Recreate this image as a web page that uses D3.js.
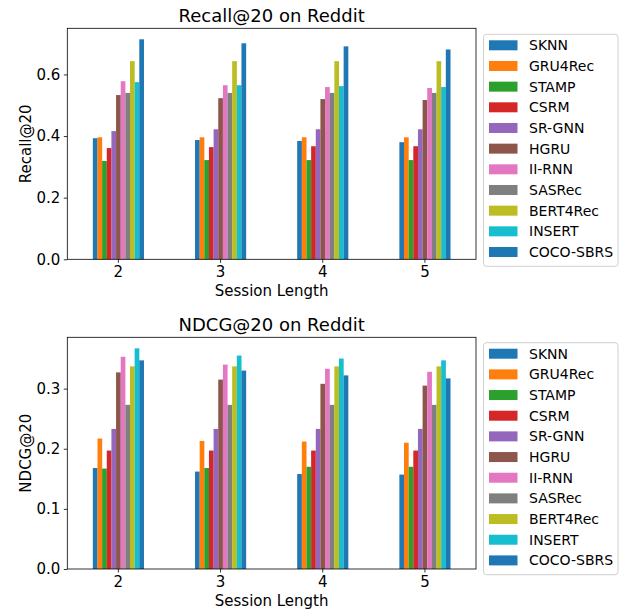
<!DOCTYPE html>
<html><head><meta charset="utf-8">
<script src="https://cdn.jsdelivr.net/npm/d3@7"></script>
<style>body{margin:0;background:#fff}svg{display:block;font-family:"DejaVu Sans",sans-serif}</style>
</head><body><svg id="c" width="622" height="611"></svg>
<script>
const categories = ["2","3","4","5"];
const methods = ["SKNN","GRU4Rec","STAMP","CSRM","SR-GNN","HGRU","II-RNN","SASRec","BERT4Rec","INSERT","COCO-SBRS"];
const colors = ["#1f77b4","#ff7f0e","#2ca02c","#d62728","#9467bd","#8c564b","#e377c2","#7f7f7f","#bcbd22","#17becf","#1f77b4"];
// values per method, across session lengths 2..5
const recall = [
  [0.393,0.387,0.384,0.380],
  [0.396,0.396,0.396,0.396],
  [0.319,0.322,0.322,0.322],
  [0.361,0.364,0.367,0.367],
  [0.416,0.422,0.422,0.422],
  [0.533,0.523,0.520,0.517],
  [0.578,0.565,0.559,0.556],
  [0.540,0.540,0.540,0.540],
  [0.643,0.643,0.643,0.643],
  [0.575,0.565,0.562,0.559],
  [0.714,0.701,0.691,0.681]
];
const ndcg = [
  [0.168,0.162,0.158,0.157],
  [0.217,0.213,0.212,0.210],
  [0.167,0.168,0.170,0.170],
  [0.197,0.197,0.197,0.197],
  [0.233,0.233,0.233,0.233],
  [0.327,0.315,0.308,0.305],
  [0.353,0.340,0.333,0.328],
  [0.273,0.273,0.273,0.273],
  [0.337,0.337,0.337,0.337],
  [0.367,0.355,0.350,0.347],
  [0.347,0.330,0.322,0.317]
];
const recallTicks = [0.0,0.2,0.4,0.6];
const ndcgTicks = [0.0,0.1,0.2,0.3];

const svg = d3.select("#c");

function panel(cfg){
  const {top,bottom,left,right,data,ticks,title,ylabel,legTop} = cfg;
  const g = svg.append("g");
  const maxV = d3.max(data.flat());
  const x = d3.scaleBand().domain(categories).range([left,right]).paddingInner(0.5).paddingOuter(0.25);
  const xi = d3.scaleBand().domain(methods).range([0,x.bandwidth()]).padding(0);
  const y = d3.scaleLinear().domain([0,maxV*1.05]).range([bottom,top]);

  methods.forEach((m,mi)=>{
    g.append("g").selectAll("rect").data(categories).join("rect")
      .attr("x",c=>x(c)+xi(m))
      .attr("width",xi.bandwidth()+0.05)
      .attr("y",(c,ci)=>y(data[mi][ci]))
      .attr("height",(c,ci)=>y(0)-y(data[mi][ci]))
      .attr("fill",colors[mi]);
  });

  const xAxis = g.append("g").attr("transform",`translate(0,${bottom})`)
    .call(d3.axisBottom(x).tickSizeOuter(0).tickSize(3.5).tickPadding(3.5));
  const yAxis = g.append("g").attr("transform",`translate(${left},0)`)
    .call(d3.axisLeft(y).tickValues(ticks).tickFormat(d3.format(".1f")).tickSizeOuter(0).tickSize(3.5).tickPadding(3.5));
  [xAxis,yAxis].forEach(a=>{
    a.select(".domain").remove();
    a.selectAll("text").attr("font-size",15).attr("fill","#000").attr("font-family","DejaVu Sans");
    a.selectAll("line").attr("stroke","#000").attr("stroke-width",0.8);
  });
  g.append("rect").attr("x",left).attr("y",top).attr("width",right-left).attr("height",bottom-top)
    .attr("fill","none").attr("stroke","#000").attr("stroke-width",0.8);

  g.append("text").attr("x",(left+right)/2).attr("y",top-6).attr("text-anchor","middle")
    .attr("font-size",18).text(title);
  g.append("text").attr("x",(left+right)/2).attr("y",bottom+37).attr("text-anchor","middle")
    .attr("font-size",15).text("Session Length");
  g.append("text").attr("transform",`translate(31,${(top+bottom)/2}) rotate(-90)`).attr("text-anchor","middle")
    .attr("font-size",15).text(ylabel);

  // legend
  const lg = g.append("g");
  lg.append("rect").attr("x",483.5).attr("y",legTop).attr("width",134.5).attr("height",232)
    .attr("rx",3).attr("fill","#fff").attr("stroke","#d0d0d0").attr("stroke-width",1);
  methods.forEach((m,i)=>{
    const cy = legTop + 11 + i*20.67;
    lg.append("rect").attr("x",489).attr("y",cy-5).attr("width",28.5).attr("height",10).attr("fill",colors[i]);
    lg.append("text").attr("x",529).attr("y",cy+5).attr("font-size",14).text(m);
  });
}

panel({top:28.3,bottom:259.3,left:67.3,right:476,data:recall,ticks:recallTicks,title:"Recall@20 on Reddit",ylabel:"Recall@20",legTop:34.3});
panel({top:337.3,bottom:569,left:67.3,right:476,data:ndcg,ticks:ndcgTicks,title:"NDCG@20 on Reddit",ylabel:"NDCG@20",legTop:342.7});
</script></body></html>
